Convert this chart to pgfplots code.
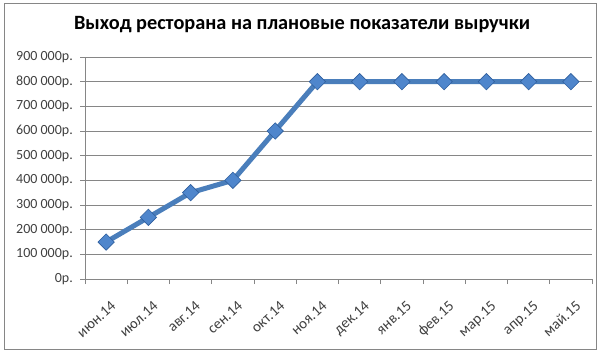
\documentclass[border=0pt]{standalone}
\usepackage{fontspec}
\setmainfont{Carlito}
\usepackage{pgfplots}
\pgfplotsset{compat=1.18}
\definecolor{serblue}{HTML}{4A7EBB}
\definecolor{mkfill}{HTML}{4F86CC}
\definecolor{mkdraw}{HTML}{2F5F9E}
\definecolor{axgray}{HTML}{868686}
\definecolor{txt}{HTML}{404040}
\begin{document}
\begin{tikzpicture}[x=1bp,y=1bp]
\useasboundingbox (0,0) rectangle (600,353);
\draw[axgray, line width=0.8bp] (4.5,4) rectangle (596.5,350);
\node[font=\fontsize{20.3bp}{22bp}\selectfont\bfseries, text=black] at (302,328) {Выход ресторана на плановые показатели выручки};
\begin{axis}[
  at={(85bp,74bp)}, anchor=south west,
  scale only axis, width=507bp, height=222bp,
  xmin=-0.5, xmax=11.5, ymin=0, ymax=900000,
  scaled y ticks=false,
  axis x line*=bottom, axis y line*=left,
  axis line style={draw=axgray, line width=0.8bp, -},
  ymajorgrids, grid style={draw=axgray, line width=0.8bp},
  tick align=outside, major tick length=5bp, minor tick length=5bp,
  tick style={draw=axgray, line width=0.8bp},
  every major x tick/.style={draw=none},
  xtick={0,...,11},
  minor xtick={-0.5,0.5,...,11.5},
  xticklabels={июн.14,июл.14,авг.14,сен.14,окт.14,ноя.14,дек.14,янв.15,фев.15,мар.15,апр.15,май.15},
  xticklabel style={xshift=4bp, yshift=-16bp, rotate=42, anchor=north east, font=\fontsize{15bp}{16bp}\selectfont, text=txt, inner sep=0bp},
  ytick={0,100000,...,900000},
  yticklabels={0р.,100 000р.,200 000р.,300 000р.,400 000р.,500 000р.,600 000р.,700 000р.,800 000р.,900 000р.},
  yticklabel style={font=\fontsize{14bp}{15bp}\selectfont, text=txt, inner sep=0bp, xshift=-7bp},
  clip=false,
]
\addplot[serblue, line width=5bp, mark=square*, mark size=5.8bp,
  mark options={rotate=45, fill=mkfill, draw=mkdraw, line width=0.6bp}]
  coordinates {(0,150000)(1,250000)(2,350000)(3,400000)(4,600000)(5,800000)(6,800000)(7,800000)(8,800000)(9,800000)(10,800000)(11,800000)};
\end{axis}
\end{tikzpicture}
\end{document}
